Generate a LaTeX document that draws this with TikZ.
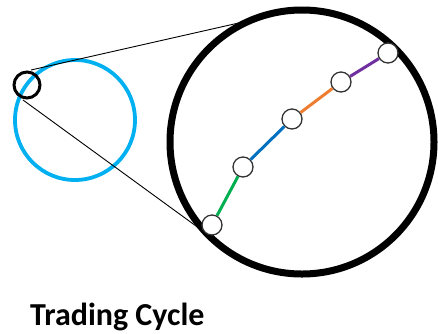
\documentclass[tikz,border=0pt]{standalone}
\usepackage{fontspec}
\setmainfont{Carlito}
\usepackage{tikz}
\usetikzlibrary{positioning}
\definecolor{ringblue}{RGB}{0,176,240}
\definecolor{segGreen}{RGB}{0,176,80}
\definecolor{segBlue}{RGB}{0,112,192}
\definecolor{segOrange}{RGB}{237,125,49}
\definecolor{segPurple}{RGB}{112,48,160}

\begin{document}
\begin{tikzpicture}[x=1pt,y=-1pt]
  \tikzset{
    stop/.style={circle, draw=black!80, fill=white, line width=1.3pt,
      minimum size=20pt, inner sep=0pt},
    seg/.style={line width=3pt},
    % every path/.style={thick},
  }
  \useasboundingbox (0,0) rectangle (438,333);

  \coordinate (cycle) at (75,120);
  \coordinate (lens) at (27,85);
  \coordinate (zoom) at (302,142);
  \coordinate (lensTop) at (31,70);
  \coordinate (lensBot) at (23,100);
  \coordinate (zoomTop) at (243,22);
  \coordinate (zoomBot) at (207,234);

  \draw[ringblue, line width=3.8pt] (cycle) circle (60);
  \draw[line width=0.9pt] (lensTop) -- (zoomTop);
  \draw[line width=0.9pt] (lensBot) -- (zoomBot);
  \draw[line width=3pt] (lens) circle (13);
  \draw[line width=7pt] (zoom) circle (132);

  % stops along the path
  \node[stop] (s1) at (212,225) {};
  \node[stop] (s2) at (243,167) {};
  \node[stop] (s3) at (292,119) {};
  \node[stop] (s4) at (341,82) {};
  \node[stop] (s5) at (388,53) {};
  \draw[seg, segGreen] (s1) -- (s2);
  \draw[seg, segBlue] (s2) -- (s3);
  \draw[seg, segOrange] (s3) -- (s4);
  \draw[seg, segPurple] (s4) -- (s5);

  \node[anchor=base west, inner sep=0pt, font=\bfseries\fontsize{32}{38}\selectfont]
    (title) at (30,325) {Trading Cycle};
\end{tikzpicture}
\end{document}
